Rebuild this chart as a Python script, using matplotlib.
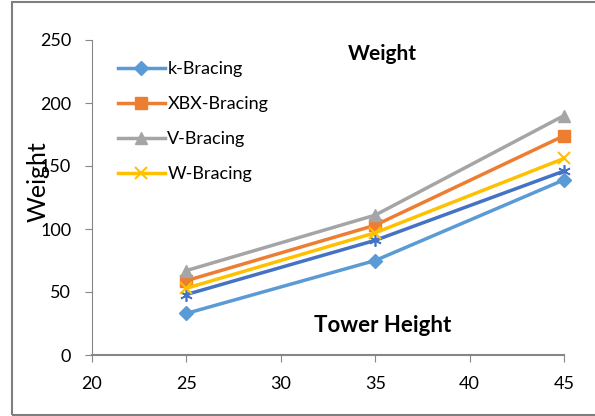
import matplotlib.pyplot as plt
from matplotlib.patches import Rectangle

plt.rcParams['font.family'] = ['Lato', 'DejaVu Sans']

# Tower height (x) and weight of each bracing system
altura = [25, 35, 45]
k_bracing = [33, 75, 139]
xbx_bracing = [59, 103, 174]
v_bracing = [67, 111, 190]
w_bracing = [53, 97, 156]
outra = [48, 91, 146]   # dark blue series, not in legend

fig = plt.figure(figsize=(5.95, 4.16), dpi=100)
ax = fig.add_axes([92 / 595, 1 - 355 / 416, (564 - 92) / 595, (355 - 40) / 416])

cinza = '#868686'
ax.plot(altura, outra, color='#4472C4', lw=2.5, marker=(6, 2, 0), ms=9, mew=1.2,
        clip_on=False, zorder=3)
ax.plot(altura, k_bracing, color='#5B9BD5', lw=2.5, marker='D', ms=7,
        label='k-Bracing', clip_on=False, zorder=3)
ax.plot(altura, xbx_bracing, color='#ED7D31', lw=2.5, marker='s', ms=9,
        label='XBX-Bracing', clip_on=False, zorder=3)
ax.plot(altura, v_bracing, color='#A5A5A5', lw=2.5, marker='^', ms=9,
        label='V-Bracing', clip_on=False, zorder=3)
ax.plot(altura, w_bracing, color='#FFC000', lw=2.5, marker='x', ms=9, mew=1.5,
        label='W-Bracing', clip_on=False, zorder=3)

ax.set_xlim(20, 45)
ax.set_ylim(0, 250)
ax.set_xticks([20, 25, 30, 35, 40, 45])
ax.set_yticks([0, 50, 100, 150, 200, 250])
for lado in ['top', 'right']:
    ax.spines[lado].set_visible(False)
ax.spines['left'].set_color(cinza)
ax.spines['bottom'].set_color(cinza)
ax.spines['bottom'].set_linewidth(1.5)
ax.tick_params(colors=cinza, labelcolor='black', labelsize=13, length=5, pad=10)

ax.set_ylabel('Weight', fontsize=18)
ax.yaxis.set_label_coords(-0.089, 0.55)
ax.text(0.615, 0.955, 'Weight', transform=ax.transAxes, ha='center', va='center',
        fontsize=15, fontweight='bold')
ax.text(0.615, 0.095, 'Tower Height', transform=ax.transAxes, ha='center', va='center',
        fontsize=16, fontweight='bold')

ax.legend(loc='upper left', bbox_to_anchor=(0.02, 0.985), frameon=False, fontsize=13,
          handlelength=2.6, labelspacing=1.05, handletextpad=0.15)

fig.patches.append(Rectangle((12 / 595, 1 / 416), 590 / 595, 413 / 416, transform=fig.transFigure,
                             fill=False, edgecolor='#7f7f7f', lw=1.5))

fig.savefig('out.png', dpi=100)
